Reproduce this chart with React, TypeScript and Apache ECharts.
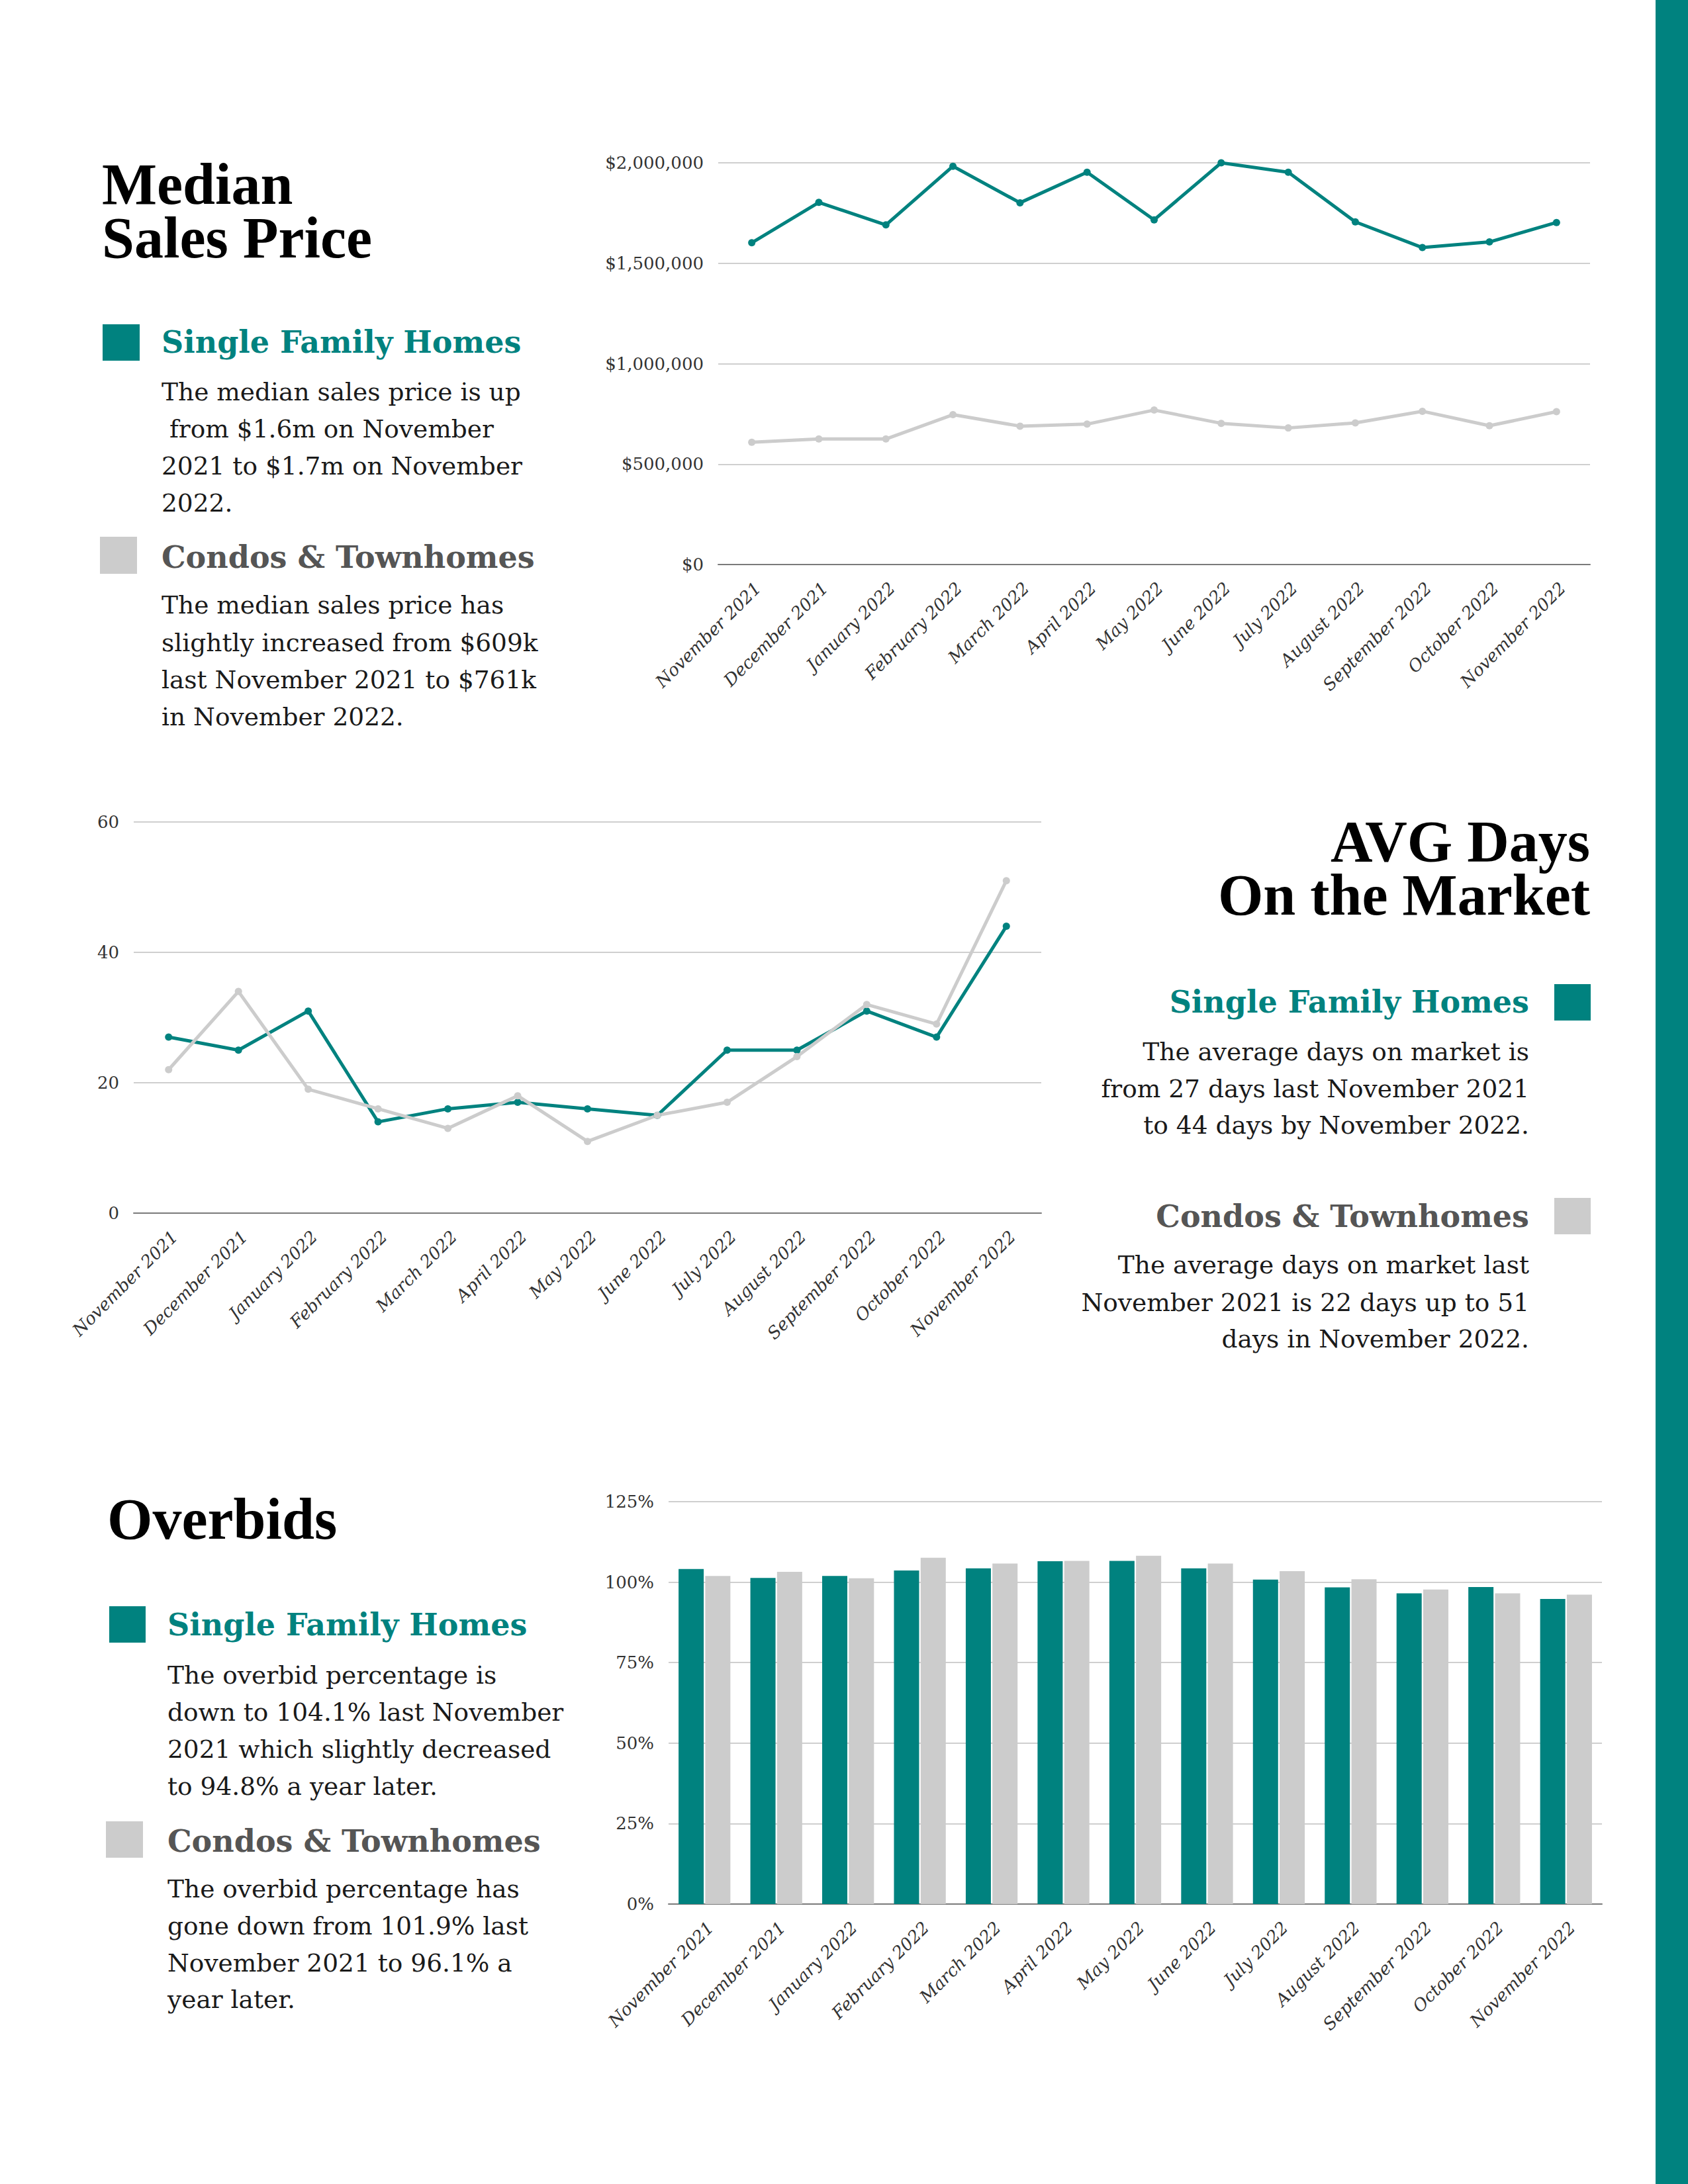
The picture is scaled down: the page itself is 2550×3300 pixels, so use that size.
import React, { useEffect, useRef } from "react";
import * as echarts from "echarts";

const months = [
  "November 2021", "December 2021", "January 2022", "February 2022", "March 2022",
  "April 2022", "May 2022", "June 2022", "July 2022", "August 2022",
  "September 2022", "October 2022", "November 2022",
];
const sfhMedianPrice = [1602000, 1803000, 1691000, 1983000, 1801000, 1953000, 1716000, 2000000, 1953000, 1706000, 1578000, 1606000, 1703000];
const condoMedianPrice = [609000, 625000, 625000, 746000, 689000, 699000, 769000, 703000, 680000, 705000, 763000, 691000, 761000];
const sfhDays = [27, 25, 31, 14, 16, 17, 16, 15, 25, 25, 31, 27, 44];
const condoDays = [22, 34, 19, 16, 13, 18, 11, 15, 17, 24, 32, 29, 51];
const sfhOverbid = [104.1, 101.3, 101.9, 103.6, 104.3, 106.5, 106.6, 104.3, 100.8, 98.4, 96.5, 98.5, 94.8];
const condoOverbid = [101.9, 103.2, 101.2, 107.6, 105.8, 106.6, 108.2, 105.8, 103.4, 100.9, 97.7, 96.5, 96.1];

const seriesNames = ["Single Family Homes", "Condos & Townhomes"];

const priceTitle = ["Median", "Sales Price"];
const priceSfhText = ["The median sales price is up", " from $1.6m on November", "2021 to $1.7m on November", "2022."];
const priceCondoText = ["The median sales price has", "slightly increased from $609k", "last November 2021 to $761k", "in November 2022."];
const daysTitle = ["AVG Days", "On the Market"];
const daysSfhText = ["The average days on market is", "from 27 days last November 2021", "to 44 days by November 2022."];
const daysCondoText = ["The average days on market last", "November 2021 is 22 days up to 51", "days in November 2022."];
const overbidTitle = ["Overbids"];
const overbidSfhText = ["The overbid percentage is", "down to 104.1% last November", "2021 which slightly decreased", "to 94.8% a year later."];
const overbidCondoText = ["The overbid percentage has", "gone down from 101.9% last", "November 2021 to 96.1% a", "year later."];

const TEAL = "#00827f";
const GRAY = "#cccccc";
const DARKGRAY = "#555555";
const SERIF = "'DejaVu Serif'";
const TITLE_SIZE = 88;
const TITLE_LH = 81;
const TITLE_FONT = "bold 88px 'Liberation Serif'";
const HEAD_FONT = "bold 46px 'DejaVu Serif'";
const BODY_FONT = "37.5px 'DejaVu Serif'";

function txt(text: string, x: number, baseline: number, font: string, fill: string, align: string) {
  const m = font.match(/([\d.]+)px/);
  const size = m ? parseFloat(m[1]) : 20;
  return {
    type: "text",
    x,
    y: baseline - size * 0.35,
    silent: true,
    style: {
      text,
      font,
      fill,
      align,
      textAlign: align,
      verticalAlign: "middle",
      textVerticalAlign: "middle",
    },
  };
}

// multi-line title as a single text block; firstBaseline = baseline of first line
function titleBlock(arr: string[], x: number, firstBaseline: number, align: string) {
  const top = firstBaseline - TITLE_LH / 2 - TITLE_SIZE * 0.35;
  return {
    type: "text",
    x,
    y: top,
    silent: true,
    style: {
      text: arr.join("\n"),
      font: TITLE_FONT,
      fill: "#000000",
      lineHeight: TITLE_LH,
      align,
      textAlign: align,
      verticalAlign: "top",
      textVerticalAlign: "top",
    },
  };
}

function lines(arr: string[], x: number, baselines: number[], font: string, fill: string, align: string) {
  return arr.map((t, i) => txt(t, x, baselines[i], font, fill, align));
}

function square(x: number, y: number, w: number, h: number, fill: string) {
  return { type: "rect", silent: true, shape: { x, y, width: w, height: h }, style: { fill } };
}

export default function App() {
  const ref = useRef<HTMLDivElement | null>(null);

  useEffect(() => {
    if (!ref.current) return;
    const chart = echarts.init(ref.current, undefined, { renderer: "svg" });

    const xAxisBase = (gridIndex: number) => ({
      type: "category",
      gridIndex,
      data: months,
      boundaryGap: true,
      axisLine: { show: true, lineStyle: { color: "#7a7a7a", width: 2 } },
      axisTick: { show: false },
      splitLine: { show: false },
      axisLabel: {
        interval: 0,
        rotate: 45,
        verticalAlign: "top",
        fontFamily: SERIF,
        fontStyle: "italic",
        fontSize: 26,
        color: "#333333",
        margin: 22,
      },
    });

    const yAxisBase = (gridIndex: number, max: number, interval: number, formatter: any) => ({
      type: "value",
      gridIndex,
      min: 0,
      max,
      interval,
      axisLine: { show: false },
      axisTick: { show: false },
      splitLine: { show: true, lineStyle: { color: "#cfcfcf", width: 2 } },
      axisLabel: { formatter, fontFamily: SERIF, fontSize: 26, color: "#333333", margin: 22 },
    });

    const graphic: any[] = [
      square(2501, 0, 49, 3300, TEAL),
      // Section 1
      titleBlock(priceTitle, 154, 309, "left"),
      square(155, 490, 56, 55, TEAL),
      txt(seriesNames[0], 244, 533, HEAD_FONT, TEAL, "left"),
      ...lines(priceSfhText, 244, [605, 661, 717, 773], BODY_FONT, "#1a1a1a", "left"),
      square(151, 811, 56, 56, GRAY),
      txt(seriesNames[1], 244, 858, HEAD_FONT, DARKGRAY, "left"),
      ...lines(priceCondoText, 244, [927, 984, 1040, 1096], BODY_FONT, "#1a1a1a", "left"),
      // Section 2
      titleBlock(daysTitle, 2402, 1302, "right"),
      square(2348, 1487, 55, 55, TEAL),
      txt(seriesNames[0], 2310, 1530, HEAD_FONT, TEAL, "right"),
      ...lines(daysSfhText, 2310, [1602, 1658, 1713], BODY_FONT, "#1a1a1a", "right"),
      square(2348, 1810, 55, 55, GRAY),
      txt(seriesNames[1], 2310, 1854, HEAD_FONT, DARKGRAY, "right"),
      ...lines(daysCondoText, 2310, [1924, 1981, 2036], BODY_FONT, "#1a1a1a", "right"),
      // Section 3
      titleBlock(overbidTitle, 162, 2326, "left"),
      square(165, 2427, 55, 55, TEAL),
      txt(seriesNames[0], 253, 2471, HEAD_FONT, TEAL, "left"),
      ...lines(overbidSfhText, 253, [2544, 2600, 2656, 2712], BODY_FONT, "#1a1a1a", "left"),
      square(160, 2752, 56, 55, GRAY),
      txt(seriesNames[1], 253, 2798, HEAD_FONT, DARKGRAY, "left"),
      ...lines(overbidCondoText, 253, [2867, 2923, 2979, 3034], BODY_FONT, "#1a1a1a", "left"),
    ];

    const lineSeries = (name: string, data: number[], color: string, idx: number) => ({
      type: "line",
      name,
      xAxisIndex: idx,
      yAxisIndex: idx,
      data,
      symbol: "circle",
      symbolSize: 11,
      showSymbol: true,
      lineStyle: { color, width: 5 },
      itemStyle: { color },
    });

    const barSeries = (name: string, data: number[], color: string) => ({
      type: "bar",
      name,
      xAxisIndex: 2,
      yAxisIndex: 2,
      data,
      barWidth: 38,
      barGap: "6%",
      itemStyle: { color },
    });

    chart.setOption({
      animation: false,
      backgroundColor: "#ffffff",
      grid: [
        { left: 1085, top: 246, width: 1317, height: 607 },
        { left: 202, top: 1242, width: 1371, height: 591 },
        { left: 1010, top: 2269, width: 1410, height: 608 },
      ],
      xAxis: [xAxisBase(0), xAxisBase(1), xAxisBase(2)],
      yAxis: [
        yAxisBase(0, 2000000, 500000, (v: number) => "$" + v.toLocaleString("en-US")),
        yAxisBase(1, 60, 20, (v: number) => String(v)),
        yAxisBase(2, 125, 25, (v: number) => v + "%"),
      ],
      series: [
        lineSeries(seriesNames[0], sfhMedianPrice, TEAL, 0),
        lineSeries(seriesNames[1], condoMedianPrice, GRAY, 0),
        lineSeries(seriesNames[0], sfhDays, TEAL, 1),
        lineSeries(seriesNames[1], condoDays, GRAY, 1),
        barSeries(seriesNames[0], sfhOverbid, TEAL),
        barSeries(seriesNames[1], condoOverbid, GRAY),
      ],
      graphic,
    });

    return () => {
      chart.dispose();
    };
  }, []);

  return (
    <div
      ref={ref}
      style={{ position: "absolute", left: 0, top: 0, width: 2550, height: 3300, background: "#ffffff" }}
    />
  );
}
